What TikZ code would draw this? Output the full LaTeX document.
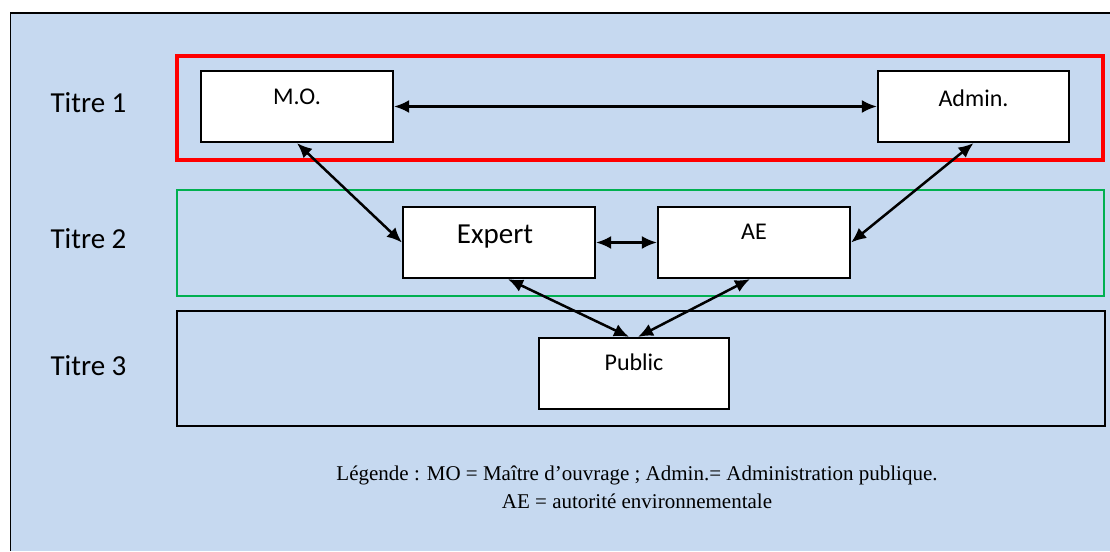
\documentclass[tikz,border=0pt]{standalone}
\usepackage{fontspec}
\setmainfont{Carlito}
\newfontfamily\legendfont{Liberation Serif}
\usetikzlibrary{arrows.meta}
\definecolor{bgblue}{HTML}{C6D9F0}
\definecolor{gframe}{HTML}{00B050}
\tikzset{
  boxnode/.style={draw=black, line width=2.2pt, fill=white, inner sep=0pt},
  bigtxt/.style={font=\fontsize{29}{33}\selectfont},
  smalltxt/.style={font=\fontsize{24}{28}\selectfont},
  conn/.style={line width=2.5pt, {Latex[length=15pt,width=13pt]}-{Latex[length=15pt,width=13pt]}},
  titre/.style={font=\fontsize{29}{33}\selectfont, anchor=west},
}
\begin{document}
\begin{tikzpicture}[x=1pt,y=-1pt]
\useasboundingbox (0,0) rectangle (1110,551);
\fill[bgblue] (10.5,13) rectangle (1110,551);
\draw[line width=1.5pt] (10.5,551) -- (10.5,13) -- (1110,13);
% frames
\draw[red, line width=3.6pt] (177,56) rectangle (1103,160);
\draw[gframe, line width=2.2pt] (177,190) rectangle (1104,296);
\draw[black, line width=2.2pt] (177,311) rectangle (1105,426);
% titles
\node[titre] (t1) at (47,103) {Titre 1};
\node[titre] (t2) at (47,239) {Titre 2};
\node[titre] (t3) at (47,366) {Titre 3};
% boxes
\node[boxnode, minimum width=192pt, minimum height=71pt] (mo) at (297,106.5) {};
\node[smalltxt] at (297,97) {M.O.};
\node[boxnode, minimum width=191pt, minimum height=71pt] (admin) at (973.5,106.5) {};
\node[smalltxt] at (973.5,98) {Admin.};
\node[boxnode, minimum width=192pt, minimum height=71pt] (expert) at (499,242.5) {};
\node[bigtxt] at (495,237) {Expert};
\node[boxnode, minimum width=192pt, minimum height=71pt] (ae) at (754,242.5) {};
\node[smalltxt] at (754,232) {AE};
\node[boxnode, minimum width=190pt, minimum height=71pt] (public) at (634,373.5) {};
\node[smalltxt] at (634,362) {Public};
% connectors
\draw[conn] (mo.east) -- (admin.west);
\draw[conn] (mo.south) -- (expert.west);
\draw[conn] (admin.south) -- (ae.east);
\draw[conn] (expert.east) -- (ae.west);
\draw[conn] ([xshift=9pt]expert.south) -- ([xshift=-5pt]public.north);
\draw[conn] ([xshift=-4pt]ae.south) -- ([xshift=4pt]public.north);
% legend
\node[font=\legendfont\fontsize{21}{24}\selectfont] (leg1) at (637,475) {Légende : MO = Maître d’ouvrage ; Admin.= Administration publique.};
\node[font=\legendfont\fontsize{21}{24}\selectfont] (leg2) at (637,501) {AE = autorité environnementale};
\end{tikzpicture}
\end{document}
